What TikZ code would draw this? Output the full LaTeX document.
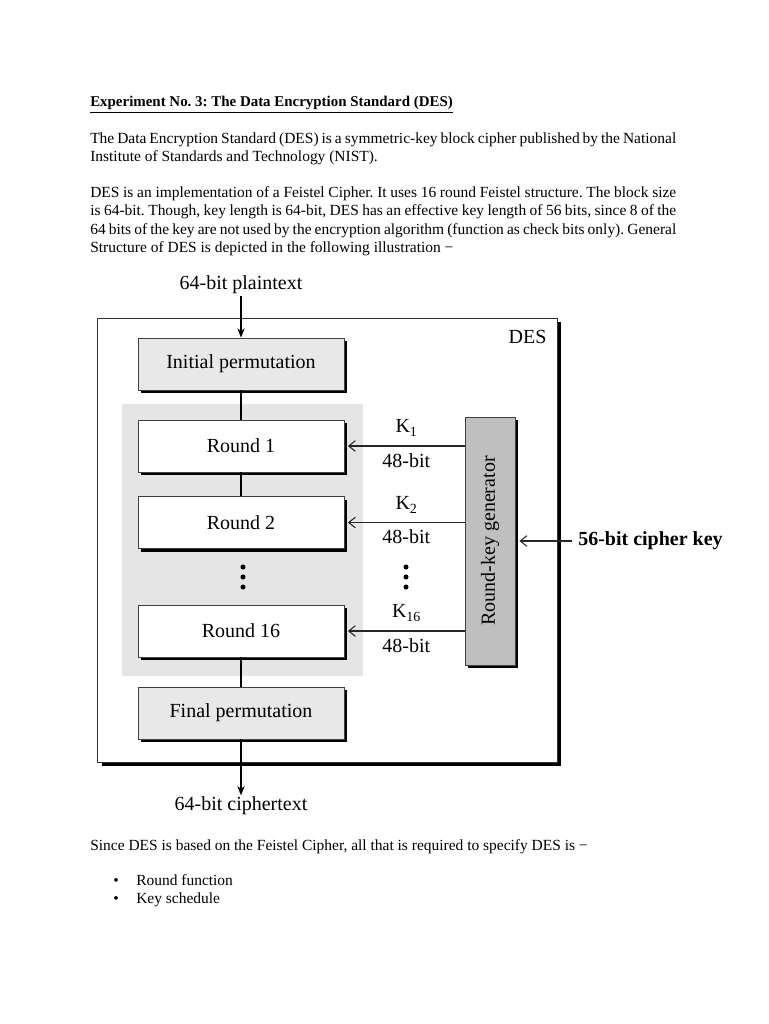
\documentclass[tikz,border=0pt]{standalone}
\usepackage{fontspec}
\setmainfont{Liberation Serif}
\usepackage{graphicx}
\usetikzlibrary{arrows.meta,positioning,calc,shadows}
\frenchspacing
\newcommand{\keysub}[1]{K\raisebox{-0.45ex}{\fontsize{10.5}{12}\selectfont #1}}
\tikzset{
  line/.style={anchor=base west, inner sep=0pt, font=\fontsize{11.6}{14}\selectfont},
  figtext/.style={inner sep=1pt, font=\fontsize{15}{18}\selectfont},
  shade/.style={drop shadow={shadow xshift=2.4pt, shadow yshift=-2.4pt, opacity=1, fill=black}},
  stagebox/.style={draw=black!75, line width=0.6pt, minimum width=154.5pt, minimum height=39pt, inner sep=0pt, font=\fontsize{15}{18}\selectfont, shade},
  permbox/.style={stagebox, fill=black!9},
  roundbox/.style={stagebox, fill=white},
  genbox/.style={stagebox, fill=black!25, minimum width=37.5pt, minimum height=186pt},
  flow/.style={-{Stealth[length=7pt,width=5.5pt]}, line width=0.8pt},
  link/.style={line width=0.8pt},
  keyarrow/.style={-{Straight Barb[length=5pt,width=8pt]}, line width=0.8pt, draw=black!85},
  dot/.style={circle, fill=black, minimum size=3.8pt, inner sep=0pt}
}
\begin{document}
\begin{tikzpicture}[x=0.75pt, y=-0.75pt]
\useasboundingbox[fill=white] (0,0) rectangle (768,1024);
\node[line, font=\fontsize{11.2}{14}\selectfont\bfseries] (title) at (90,107) {\underline{Experiment No. 3: The Data Encryption Standard (DES)}};
\node[line] (p1a) at (90,143) {\makebox[439.5pt][s]{The Data Encryption Standard (DES) is a symmetric-key block cipher published by the National}};
\node[line] (p1b) at (90,161) {Institute of Standards and Technology (NIST).};
\node[line] (p2a) at (90,197) {\makebox[439.5pt][s]{DES is an implementation of a Feistel Cipher. It uses 16 round Feistel structure. The block size}};
\node[line] (p2b) at (90,215) {\makebox[439.5pt][s]{is 64-bit. Though, key length is 64-bit, DES has an effective key length of 56 bits, since 8 of the}};
\node[line] (p2c) at (90,234) {\makebox[439.5pt][s]{64 bits of the key are not used by the encryption algorithm (function as check bits only). General}};
\node[line] (p2d) at (90,252) {Structure of DES is depicted in the following illustration −};
\node[draw=black!80, line width=0.6pt, fill=white, minimum width=344.6pt, minimum height=333pt, drop shadow={shadow xshift=3pt, shadow yshift=-3pt, opacity=1, fill=black}] (des) at (327.3,540) {};
\node[figtext, anchor=north east] (deslabel) at (548,329) {DES};
\node[fill=black!10, minimum width=180.5pt, minimum height=204pt, inner sep=0pt] (rounds) at (242.4,540) {};
\node[figtext] (pt) at (241,285) {64-bit plaintext};
\node[permbox] (ip) at (241,364) {Initial permutation};
\node[roundbox] (r1) at (241,446) {Round 1};
\node[roundbox] (r2) at (241,522.5) {Round 2};
\node[roundbox] (r16) at (241,631) {Round 16};
\node[permbox] (fp) at (241,713) {Final permutation};
\node[figtext] (ct) at (241,806) {64-bit ciphertext};
\node[genbox] (gen) at (490,541) {\rotatebox{90}{Round-key generator}};
\node[figtext, font=\fontsize{15}{18}\selectfont\bfseries, anchor=west, inner xsep=4.5pt] (ck) at (572,541) {56-bit cipher key};
\foreach \y [count=\i] in {567,577,587} {
  \node[dot] (ldot\i) at (243,\y) {};
  \node[dot] (kdot\i) at (406,\y) {};
}
\draw[flow] (pt) -- (ip);
\draw[link] (ip) -- (r1);
\draw[link] (r1) -- (r2);
\draw[link] (r16) -- (fp);
\draw[flow] (fp) -- (ct);
\draw[keyarrow] (gen.west |- r1) -- ([xshift=2.6pt]r1.east) node[figtext, midway, above=5.5pt] {\keysub{1}} node[figtext, midway, below=4.2pt] {48-bit};
\draw[keyarrow] (gen.west |- r2) -- ([xshift=2.6pt]r2.east) node[figtext, midway, above=5.5pt] {\keysub{2}} node[figtext, midway, below=4.2pt] {48-bit};
\draw[keyarrow] (gen.west |- r16) -- ([xshift=2.6pt]r16.east) node[figtext, midway, above=5.5pt] {\keysub{16}} node[figtext, midway, below=4.2pt] {48-bit};
\draw[keyarrow] (ck.west) -- ([xshift=3pt]gen.east);
\node[line] (p3) at (90,850) {Since DES is based on the Feistel Cipher, all that is required to specify DES is −};
\node[line] (b1) at (113,885) {•};
\node[line] (i1) at (136,885) {Round function};
\node[line] (b2) at (113,903) {•};
\node[line] (i2) at (136,903) {Key schedule};
\end{tikzpicture}
\end{document}
